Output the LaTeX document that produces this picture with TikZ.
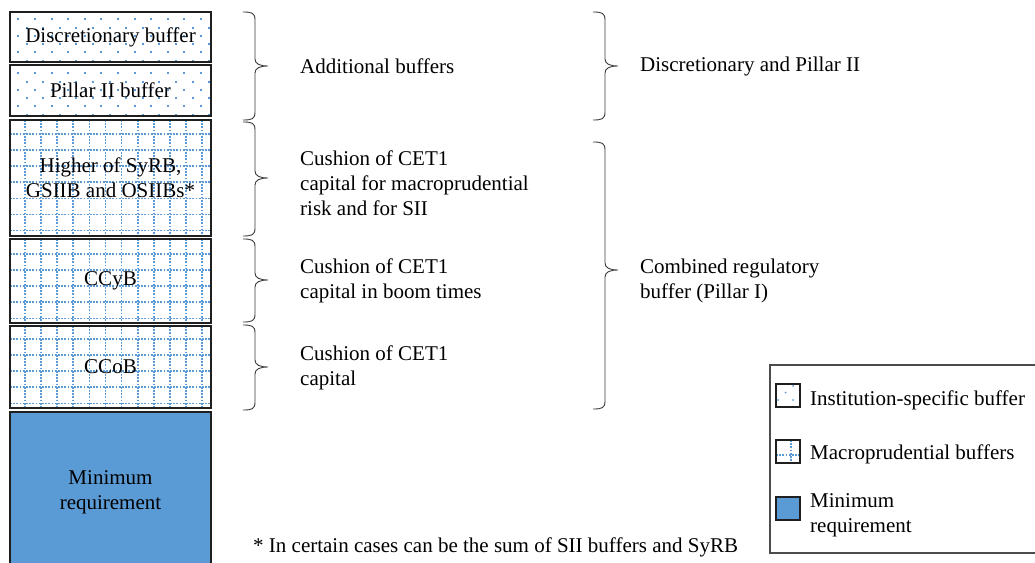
\documentclass[tikz,border=0pt]{standalone}
\usepackage{fontspec}
\setmainfont{Liberation Serif}
\definecolor{mblue}{HTML}{5B9BD5}
\definecolor{edgec}{HTML}{1F1F1F}
\definecolor{bracec}{HTML}{3A3A3A}
\newcommand\instdots[4]{%
  \begin{scope}
    \clip (#1,#2) rectangle (#3,#4);
    \foreach \r in {0,...,14}{%
      \pgfmathsetmacro{\yy}{#2+8.3+8.3*\r}
      \pgfmathsetmacro{\off}{(1-mod(\r,2))*8.3}
      \foreach \c in {0,...,13}{%
        \fill[mblue] ({#1+\off+16.6*\c-1},{\yy-1}) rectangle ++(2,2);
      }
    }
  \end{scope}}
\newcommand\macrogrid[6]{%
  \begin{scope}
    \clip (#1,#2) rectangle (#3,#4);
    \foreach \c in {0,...,13} \draw[gridline] ({#1+#5+16.1*\c},#2) -- ({#1+#5+16.1*\c},#4);
    \foreach \r in {0,...,9} \draw[gridline] (#1,{#2+#6+16.1*\r}) -- (#3,{#2+#6+16.1*\r});
  \end{scope}}
\newcommand\bracer[4]{%
  \draw[bracestyle] (#1,#2) .. controls ({#1+9},#2) and ({#1+12},{#2+1}) .. ({#1+12},{#2+8})
   -- ({#1+12},{#4-7}) .. controls ({#1+12},{#4-2}) and ({#1+17},#4) .. ({#1+25},#4)
   .. controls ({#1+17},#4) and ({#1+12},{#4+2}) .. ({#1+12},{#4+7})
   -- ({#1+12},{#3-8}) .. controls ({#1+12},{#3-1}) and ({#1+9},#3) .. (#1,#3);}
\tikzset{
  gridline/.style={mblue, line width=1.7bp, dash pattern=on 1.7bp off 1.5bp},
  bracestyle/.style={draw=bracec, line width=0.9bp},
  box/.style={draw=edgec, line width=1.3bp, minimum width=201bp, inner sep=0pt, align=center, text=black},
  lbl/.style={anchor=west, align=left, inner sep=0pt, text=black},
  lbox/.style={draw=edgec, line width=1.2bp, minimum width=24bp, minimum height=23bp, inner sep=0pt}
}
\begin{document}
\begin{tikzpicture}[x=1bp,y=-1bp, font=\fontsize{21bp}{25bp}\selectfont]
\useasboundingbox (0,0) rectangle (1035,563);
% patterns
\instdots{10}{11}{211}{61}
\instdots{10}{65}{211}{116}
\macrogrid{10}{120}{211}{236}{15}{14}
\macrogrid{10}{239}{211}{323}{15}{15}
\macrogrid{10}{326}{211}{408}{15}{13}
% boxes
\node[box, minimum height=50bp] (b1) at (110.5,37) {Discretionary buffer};
\node[box, minimum height=51bp] (b2) at (110.5,90.5) {Pillar II buffer};
\node[box, minimum height=116bp] (b3) at (110.5,178) {Higher of SyRB,\\GSIIB and OSIIBs*};
\node[box, minimum height=84bp] (b4) at (110.5,281) {CCyB};
\node[box, minimum height=82bp] (b5) at (110.5,367) {CCoB};
\node[box, minimum height=154bp, fill=mblue] (b6) at (110.5,489) {};
\node[align=center, inner sep=0pt, text=black] (b6t) at (110.5,492) {Minimum\\requirement};
% braces column 1
\bracer{243}{12}{120}{66}
\bracer{243}{122}{236}{178}
\bracer{243}{239}{322}{280}
\bracer{243}{325}{410}{367}
% braces column 2
\bracer{593}{12}{120}{66}
\bracer{593}{142}{409}{270}
% labels
\node[lbl] (t1) at (300,66) {Additional buffers};
\node[lbl] (t2) at (300,183) {Cushion of CET1\\capital for macroprudential\\risk and for SII};
\node[lbl] (t3) at (300,281) {Cushion of CET1\\capital in boom times};
\node[lbl] (t4) at (300,368) {Cushion of CET1\\capital};
\node[lbl] (t5) at (640,66) {Discretionary and Pillar II};
\node[lbl] (t6) at (640,281) {Combined regulatory\\buffer (Pillar I)};
\node[lbl] (fn) at (253,547) {* In certain cases can be the sum of SII buffers and SyRB};
% legend
\draw[draw=black!70, line width=1.3bp] (1038,365) -- (770,365) -- (770,553) -- (1038,553);
\fill[mblue] (785.5,392.5) circle (1) (793,386) circle (1) (778,400) circle (1) (793,400) circle (1);
\node[lbox] (l1) at (788,395.5) {};
\draw[gridline] (791,440) -- (791,463);
\draw[gridline] (776,455) -- (800,455);
\node[lbox] (l2) at (788,451.5) {};
\node[lbox, fill=mblue] (l3) at (788,508.5) {};
\node[lbl] (lt1) at (810,400) {Institution-specific buffer};
\node[lbl] (lt2) at (810,454) {Macroprudential buffers};
\node[lbl] (lt3) at (810,515) {Minimum\\requirement};
\end{tikzpicture}
\end{document}
